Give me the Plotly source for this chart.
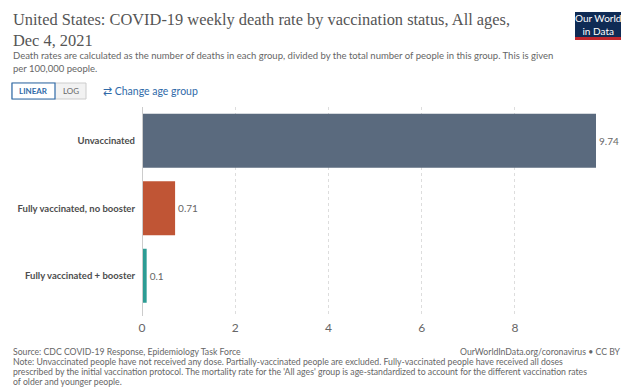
import plotly.graph_objects as go

categories = ["Unvaccinated", "Fully vaccinated, no booster", "Fully vaccinated + booster"]
death_rates = [9.74, 0.71, 0.1]
bar_colors = ["#5a6a7e", "#c05535", "#2c9c94"]
tick_values = [0, 2, 4, 6, 8]
tick_labels = ["0", "2", "4", "6", "8"]

# page has an 8px body margin; compensate so coordinates match the 631x389 window
O = 8
W, H = 631 - O, 389 - O
L, R = 142, 596      # plot area x in window px
T, B = 107, 316      # plot area y in window px

def px(x):
    return (x - L) / (R - L)

def py(y):
    return (B - y) / (B - T)

FONT = "Lato, 'Open Sans', sans-serif"
SERIF = "'Liberation Serif', 'DejaVu Serif', serif"

fig = go.Figure()
fig.add_trace(go.Bar(
    x=death_rates, y=categories, orientation="h",
    marker=dict(color=bar_colors, line=dict(width=0)),
    text=[f"{v:g}" for v in death_rates], textposition="outside",
    textfont=dict(family=FONT, size=10, color="#666666"),
    cliponaxis=False, width=0.8,
    hoverinfo="skip",
))

band = (B - T) / 67.5
fig.update_layout(
    width=W, height=H,
    margin=dict(l=L - O, r=W - (R - O), t=T - O, b=H - (B - O), pad=0, autoexpand=False),
    paper_bgcolor="white", plot_bgcolor="white",
    showlegend=False,
    bargap=0.2,
    xaxis=dict(range=[0, 9.74], tickvals=tick_values, ticktext=tick_labels,
               showgrid=True, gridcolor="#dddddd", griddash="dot", gridwidth=1,
               zeroline=False, showline=False, ticks="", automargin=False,
               tickfont=dict(family=FONT, size=12, color="#666666"),
               ticklabelstandoff=3, fixedrange=True),
    yaxis=dict(categoryorder="array", categoryarray=categories,
               range=[-0.5 + band, -0.5], showgrid=False, zeroline=False,
               showline=False, ticks="", ticklabelstandoff=6, automargin=False,
               tickfont=dict(family=FONT, size=9.5, color="#4d4d4d", weight="bold"),
               fixedrange=True),
    font=dict(family=FONT),
)

# zero line
fig.add_shape(type="line", xref="x", yref="paper", x0=0, x1=0, y0=0, y1=1,
              line=dict(color="#cccccc", width=2), layer="above")

ann = []
def add(text, x, y, size, color, xanchor="left", yanchor="middle", family=FONT, **kw):
    ann.append(dict(text=text, x=px(x), y=py(y), xref="paper", yref="paper",
                    xanchor=xanchor, yanchor=yanchor, showarrow=False,
                    font=dict(family=family, size=size, color=color), align="left", **kw))

add("United States: COVID-19 weekly death rate by vaccination status, All ages,", 11, 20, 16.4, "#555555", family=SERIF)
add("Dec 4, 2021", 11, 40, 16.4, "#555555", family=SERIF)
add("Death rates are calculated as the number of deaths in each group, divided by the total number of people in this group. This is given", 11, 55, 9.5, "#666666")
add("per 100,000 people.", 11, 69, 9.5, "#666666")

# buttons
fig.add_shape(type="rect", xref="paper", yref="paper", x0=px(12), x1=px(86), y0=py(99), y1=py(83),
              line=dict(color="#cccccc", width=1), fillcolor="#f2f2f2", layer="above")
fig.add_shape(type="rect", xref="paper", yref="paper", x0=px(12), x1=px(55), y0=py(99), y1=py(83),
              line=dict(color="#2f6aa8", width=1.2), fillcolor="white", layer="above")
add("<b>LINEAR</b>", 33.5, 91, 8, "#2f6aa8", xanchor="center")
add("LOG", 70.5, 91, 8, "#666666", xanchor="center")
add("⇄ Change age group", 101, 90.5, 10.5, "#2f6aa8")

# logo
fig.add_shape(type="rect", xref="paper", yref="paper", x0=px(575), x1=px(621), y0=py(37), y1=py(12),
              line=dict(width=0), fillcolor="#0f2b55", layer="above")
fig.add_shape(type="rect", xref="paper", yref="paper", x0=px(575), x1=px(621), y0=py(40), y1=py(37),
              line=dict(width=0), fillcolor="#c1272d", layer="above")
add("Our World<br>in Data", 598, 24.5, 10, "white", xanchor="center", align_center=True) if False else None
ann.append(dict(text="Our World<br>in Data", x=px(598), y=py(24.5), xref="paper", yref="paper",
                xanchor="center", yanchor="middle", showarrow=False, align="center",
                font=dict(family=FONT, size=10, color="white")))

# footer
FS = 8.7
add("Source: CDC COVID-19 Response, Epidemiology Task Force", 11, 351.5, FS, "#666666")
add("OurWorldInData.org/coronavirus • CC BY", 623, 351.5, FS, "#666666", xanchor="right")
add("Note: Unvaccinated people have not received any dose. Partially-vaccinated people are excluded. Fully-vaccinated people have received all doses", 11, 361.5, FS, "#666666")
add("prescribed by the initial vaccination protocol. The mortality rate for the 'All ages' group is age-standardized to account for the different vaccination rates", 11, 371.5, FS, "#666666")
add("of older and younger people.", 11, 381.5, FS, "#666666")

fig.update_layout(annotations=ann)
fig.write_html("out.html", config={"displayModeBar": False})
